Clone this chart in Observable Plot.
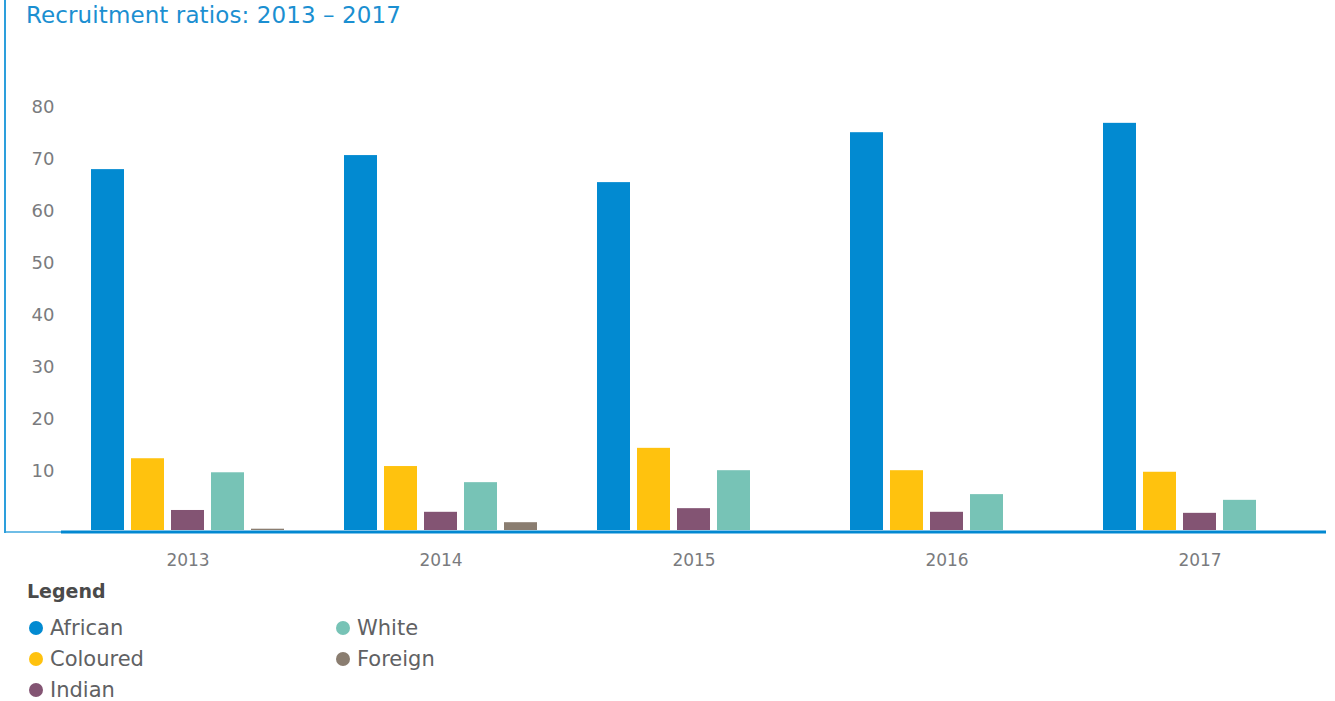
<!DOCTYPE html>
<html>
<head>
<meta charset="utf-8">
<script src="https://cdn.jsdelivr.net/npm/d3@7"></script>
<script src="https://cdn.jsdelivr.net/npm/@observablehq/plot@0.6"></script>
<style>
  html, body { margin: 0; padding: 0; background: #fff; }
  body { width: 1335px; height: 701px; position: relative; overflow: hidden; font-family: "DejaVu Sans", sans-serif; }
  #leftbar { position: absolute; left: 4px; top: 0; width: 2px; height: 533px; background: #2d9fdc; }
  #title { height: 40px; line-height: 30px; padding-left: 26px; font-size: 23px; color: #1b8fd1; letter-spacing: 0.1px; }
  #chart { height: 540px; }
  #legend { padding-left: 27px; }
  #legend .head { font-weight: 700; font-size: 19px; color: #4a4a4a; height: 32px; line-height: 22px; }
  #legend .items { display: grid; grid-template-rows: repeat(3, 31px); grid-auto-flow: column; grid-template-columns: 307px 300px; width: 620px; }
  #legend .item { display: flex; align-items: center; font-size: 21px; color: #606163; }
  #legend .dot { width: 14px; height: 14px; border-radius: 50%; margin-right: 7px; margin-left: 2px; }
</style>
</head>
<body>
<div id="leftbar"></div>
<div id="title">Recruitment ratios: 2013 – 2017</div>
<div id="chart"></div>
<div id="legend"></div>
<script>
const years = ["2013", "2014", "2015", "2016", "2017"];
const races = ["African", "Coloured", "Indian", "White", "Foreign"];
const colors = ["#028ad1", "#ffc20e", "#835473", "#77c3b6", "#8a7d70"];
const african  = [69.4, 72.1, 66.9, 76.5, 78.3];
const coloured = [13.8, 12.3, 15.8, 11.5, 11.2];
const indian   = [3.85, 3.5, 4.2, 3.5, 3.3];
const white    = [11.1, 9.2, 11.5, 6.9, 5.8];
const foreign  = [0.25, 1.5, 0, 0, 0];
const yTicks = [10, 20, 30, 40, 50, 60, 70, 80];

const series = [african, coloured, indian, white, foreign];
const rows = [];
years.forEach((yr, i) => {
  races.forEach((r, j) => rows.push({year: yr, race: r, value: series[j][i]}));
});

const chart = Plot.plot({
  width: 1335,
  height: 540,
  marginLeft: 60,
  marginRight: 8,
  marginTop: 74,
  marginBottom: 50,
  style: {fontFamily: "'DejaVu Sans', sans-serif", background: "transparent"},
  fx: {domain: years, padding: 0, label: null},
  x: {domain: races, paddingInner: 0.18, paddingOuter: 0.71, axis: null},
  y: {domain: [0, 80], axis: null},
  color: {domain: races, range: colors},
  marks: [
    Plot.barY(rows, {fx: "year", x: "race", y: "value", fill: "race"}),
    Plot.ruleY([{fx: "2013", v: 0}], {fx: "fx", y: "v", stroke: "#6fbde6", strokeWidth: 2, dx: -55, dy: 1.5}),
    Plot.ruleY([0], {stroke: "#0288d1", strokeWidth: 3, dy: 1.5}),
    Plot.axisY({ticks: yTicks, tickSize: 0, tickPadding: 7, label: null, fontSize: 18, fill: "#7a7b7e", dy: -7}),
    Plot.axisFx({anchor: "bottom", tickSize: 0, tickPadding: 23, label: null, fontSize: 17, fill: "#7a7b7e"})
  ]
});
document.getElementById("chart").appendChild(chart);

const legend = document.getElementById("legend");
legend.innerHTML = '<div class="head">Legend</div><div class="items">' +
  races.map((r, i) => `<div class="item"><span class="dot" style="background:${colors[i]}"></span>${r}</div>`).join("") +
  '</div>';
</script>
</body>
</html>
